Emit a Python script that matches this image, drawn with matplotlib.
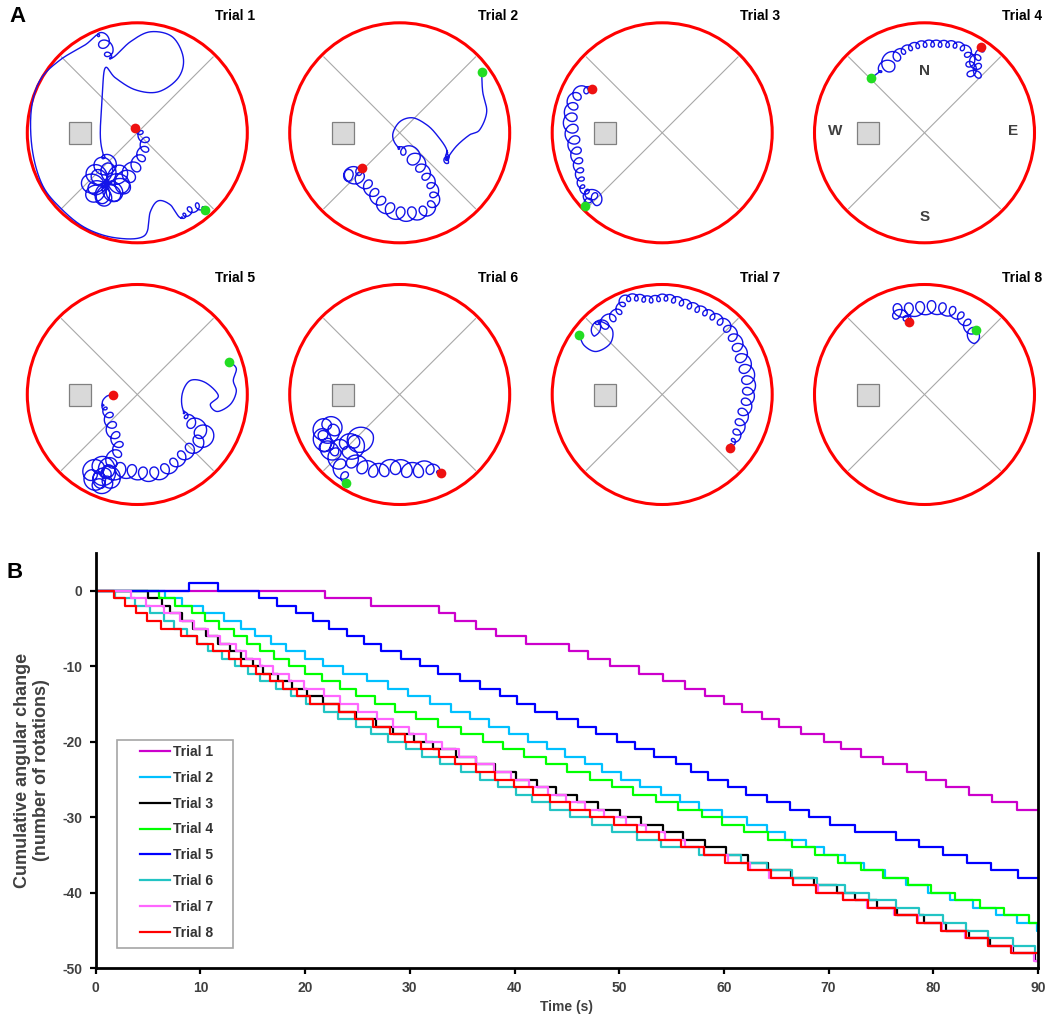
import numpy as np
import matplotlib
matplotlib.use('Agg')
import matplotlib.pyplot as plt
from matplotlib.patches import Circle, Rectangle

plt.rcParams['font.family'] = ['Liberation Sans', 'DejaVu Sans']
plt.rcParams['font.weight'] = 'bold'
plt.rcParams['axes.unicode_minus'] = False

W, H = 1050, 1016

# ---------------- panel B data: times (s) of each full rotation ----------------
trials = ['Trial 1', 'Trial 2', 'Trial 3', 'Trial 4', 'Trial 5', 'Trial 6', 'Trial 7', 'Trial 8']
colors = ['#CC00CC', '#00C0FF', '#000000', '#00FF00', '#0000FF', '#22C4C4', '#FF66FF', '#FF0000']

cw1 = [21.9, 26.3, 32.8, 34.3, 36.3, 38.2, 41.1, 45.2, 47.0, 49.1, 51.9, 54.2, 56.3, 58.2, 60.0,
       61.7, 63.6, 65.3, 67.4, 69.6, 71.2, 73.1, 75.2, 77.5, 79.3, 81.2, 83.4, 85.6, 88.0]
cw2 = [6.6, 8.2, 10.2, 12.2, 13.9, 15.2, 16.7, 18.2, 20.0, 21.7, 23.6, 25.9, 27.9, 29.8, 31.9,
       33.9, 35.7, 37.6, 39.5, 41.3, 43.1, 44.8, 46.7, 48.4, 50.2, 52.0, 54.0, 55.8, 57.6, 59.8,
       62.2, 64.1, 65.8, 67.8, 69.6, 71.6, 73.4, 75.4, 77.4, 79.5, 81.6, 83.8, 86.0, 88.0, 89.9]
cw3 = [5.0, 6.3, 7.1, 8.2, 9.3, 10.5, 11.7, 12.8, 13.9, 15.0, 16.0, 17.4, 18.7, 20.2, 21.7,
       23.2, 24.9, 26.8, 28.4, 30.4, 32.2, 34.4, 36.3, 38.1, 40.1, 42.1, 44.0, 46.0, 48.0, 50.1,
       52.1, 54.2, 56.1, 58.2, 60.2, 62.3, 64.2, 66.4, 68.6, 70.8, 72.5, 74.6, 76.5, 79.1, 81.2,
       83.4, 85.4, 87.6, 89.7]
cw4 = [6.0, 7.6, 9.2, 10.4, 11.8, 13.2, 14.4, 15.7, 17.0, 18.5, 20.0, 21.6, 23.3, 24.9, 26.7,
       28.6, 30.6, 32.7, 34.9, 37.0, 38.9, 40.9, 43.0, 45.0, 47.2, 49.3, 51.3, 53.5, 55.6, 57.9,
       59.8, 61.9, 64.2, 66.5, 68.7, 70.9, 73.1, 75.2, 77.6, 79.8, 82.1, 84.5, 86.8, 89.1]
cw5 = [11.7, 15.6, 17.3, 19.1, 20.7, 22.3, 24.0, 25.6, 27.2, 29.2, 31.0, 32.7, 34.8, 36.7, 38.6,
       40.2, 42.0, 44.1, 46.1, 47.8, 49.8, 51.5, 53.3, 55.4, 56.9, 58.5, 60.4, 62.1, 64.1, 66.3,
       68.1, 70.1, 72.5, 76.4, 78.6, 80.9, 83.2, 85.5, 88.1]
ccw5 = [8.9]
cw6 = [1.8, 3.7, 5.2, 6.5, 7.5, 8.7, 9.7, 10.7, 12.1, 13.3, 14.5, 15.7, 17.2, 18.6, 20.1,
       21.8, 23.1, 24.9, 26.3, 27.9, 29.6, 31.2, 32.9, 34.9, 36.7, 38.4, 40.1, 41.7, 43.4, 45.3,
       47.4, 49.3, 51.7, 54.0, 57.6, 61.6, 64.1, 66.5, 68.9, 71.6, 73.9, 76.4, 78.6, 80.9, 83.1,
       85.2, 87.6, 89.7]
cw7 = [3.4, 4.8, 6.5, 8.0, 9.4, 10.7, 11.9, 13.4, 14.3, 15.7, 16.9, 18.5, 19.9, 21.8, 23.3,
       25.0, 26.9, 28.4, 29.9, 31.5, 33.1, 34.7, 36.3, 38.0, 39.7, 41.4, 43.2, 44.9, 46.7, 48.5,
       50.6, 52.6, 54.4, 56.3, 58.1, 60.4, 62.5, 64.3, 66.6, 69.0, 71.4, 73.7, 76.2, 78.5, 80.8,
       83.0, 85.2, 87.5, 89.6]
cw8 = [1.7, 2.8, 3.8, 4.9, 6.2, 8.1, 9.7, 11.2, 12.7, 13.9, 15.3, 16.6, 17.9, 19.2, 20.5,
       23.2, 24.8, 26.5, 28.1, 29.5, 31.1, 32.8, 34.3, 36.3, 38.1, 39.9, 41.8, 43.4, 45.3, 47.2,
       49.5, 51.7, 53.8, 55.9, 58.1, 60.1, 62.3, 64.5, 66.6, 68.8, 71.4, 73.8, 76.3, 78.4, 80.7,
       83.1, 85.2, 87.4]
cw_all = [cw1, cw2, cw3, cw4, cw5, cw6, cw7, cw8]
ccw_all = [[], [], [], [], ccw5, [], [], []]
t_end = 90

# ---------------- panel A data: tracks, arena radius = 110, (x, y, loop radius) ----------------
track1 = [(68, -77, 0), (60, -74, 4), (51, -79, 4), (43, -85, 0), (33, -72, 0), (21, -68, 0),
          (13, -79, 0), (7, -103, 0), (-22, -105, 0), (-52, -95, 0), (-77, -75, 0), (-95, -52, 0),
          (-105, -17, 0), (-106, 23, 0), (-97, 53, 0), (-77, 73, 0), (-52, 88, 0), (-40, 98, 0),
          (-34, 93, 7), (-30, 83, 6), (-25, 75, 0), (-7, 91, 0), (13, 101, 0), (35, 96, 0),
          (46, 75, 0), (41, 55, 0), (21, 41, 0), (-2, 43, 0), (-22, 55, 0), (-32, 65, 0),
          (-35, 38, 0), (-37, -2, 0), (-34, -22, 0), (-30, -30, 10), (-38, -40, 12), (-44, -52, 12),
          (-38, -63, 10), (-26, -58, 12), (-18, -46, 12), (-28, -40, 10), (-40, -50, 10),
          (-34, -62, 9), (-18, -55, 10), (-8, -40, 8), (0, -30, 6), (5, -20, 5), (8, -10, 5),
          (4, -2, 4), (-2, 5, 0)]
track2 = [(82, 61, 0), (83, 41, 0), (87, 21, 0), (80, 3, 0), (70, -2, 0), (58, -12, 0), (50, -22, 0),
          (46, -29, 3), (47, -17, 0), (37, -2, 0), (27, 8, 0), (13, 15, 0), (0, 11, 0), (-7, -2, 0),
          (-2, -14, 0), (12, -22, 9), (22, -35, 6), (32, -52, 5), (35, -67, 5), (27, -78, 6),
          (13, -81, 7), (0, -81, 7), (-13, -75, 7), (-23, -65, 6), (-32, -53, 6), (-42, -45, 7),
          (-54, -43, 7), (-44, -39, 6), (-38, -35, 0)]
track3 = [(-77, -73, 0), (-72, -63, 7), (-64, -67, 6), (-79, -57, 3), (-82, -45, 4), (-84, -32, 5),
          (-87, -17, 6), (-90, -2, 7), (-92, 13, 7), (-90, 28, 6), (-86, 38, 6), (-78, 43, 5),
          (-70, 44, 0)]
track4 = [(-53, 55, 0), (-45, 61, 0), (-39, 67, 9), (-33, 73, 8), (-25, 80, 4), (-13, 86, 3.5),
          (1, 89, 3.5), (16, 89, 3.5), (31, 88, 3.5), (42, 83, 4), (46, 71, 5), (48, 58, 5),
          (54, 61, 5), (50, 72, 5), (56, 80, 4), (57, 86, 0)]
track5 = [(92, 33, 0), (99, 26, 0), (96, 14, 0), (99, 3, 0), (93, -10, 0), (80, -17, 0), (73, -10, 0),
          (81, -1, 0), (68, 12, 0), (53, 14, 0), (45, 1, 0), (46, -16, 0), (58, -31, 8), (68, -41, 9),
          (58, -51, 7), (46, -61, 6), (35, -71, 6), (23, -78, 7), (10, -80, 7), (-2, -78, 7),
          (-17, -76, 8), (-30, -80, 9), (-42, -88, 8), (-48, -78, 8), (-35, -70, 9), (-25, -85, 8),
          (-40, -92, 7), (-30, -72, 8), (-22, -60, 6), (-19, -51, 5), (-25, -36, 6), (-29, -21, 5),
          (-35, -9, 0), (-31, -2, 0), (-24, 0, 0)]
track6 = [(-54, -88, 0), (-58, -78, 7), (-65, -62, 8), (-75, -50, 9), (-80, -38, 8), (-73, -28, 7),
          (-63, -35, 8), (-76, -45, 8), (-68, -55, 7), (-55, -48, 6), (-38, -44, 12), (-50, -61, 8),
          (-38, -71, 8), (-22, -76, 7), (-5, -72, 8), (13, -76, 8), (30, -73, 7), (41, -78, 0)]
track7 = [(-83, 60, 0), (-78, 49, 0), (-66, 43, 0), (-52, 51, 0), (-50, 65, 0), (-62, 73, 0),
          (-66, 65, 7), (-56, 73, 6), (-44, 83, 4), (-38, 95, 4), (-26, 97, 3.5), (-12, 95, 3.5),
          (3, 97, 3.5), (18, 93, 4), (33, 87, 4), (48, 80, 4), (63, 70, 5), (73, 55, 6), (80, 37, 7),
          (86, 17, 7), (86, -3, 6), (80, -23, 6), (75, -40, 5), (68, -53, 0)]
track8 = [(52, 65, 0), (50, 57, 6), (43, 70, 5), (33, 80, 5), (20, 85, 6), (5, 87, 7), (-10, 85, 7),
          (-30, 83, 7), (-17, 77, 4), (-15, 73, 0)]
tracks = [track1, track2, track3, track4, track5, track6, track7, track8]
ARENA_R = 110
cue_x, cue_size = -57, 22


def track_xy(wp):
    # smooth path through the waypoints, with clockwise loops of the given radius
    wp = np.asarray(wp, float)
    P = np.vstack([wp[0, :2], wp[:, :2], wp[-1, :2]])
    R = np.concatenate([[wp[0, 2]], wp[:, 2], [wp[-1, 2]]])
    t = np.linspace(0, 1, 30, endpoint=False)[:, None]
    segs, rs = [], []
    for i in range(1, len(P) - 2):
        p0, p1, p2, p3 = P[i - 1], P[i], P[i + 1], P[i + 2]
        segs.append(0.5 * (2 * p1 + (p2 - p0) * t + (2 * p0 - 5 * p1 + 4 * p2 - p3) * t ** 2
                           + (3 * p1 - p0 - 3 * p2 + p3) * t ** 3))
        rs.append(R[i] + (R[i + 1] - R[i]) * t[:, 0])
    segs.append(P[-2][None])
    rs.append([R[-2]])
    base = np.vstack(segs)
    rr = np.concatenate(rs)
    s = np.concatenate([[0], np.cumsum(np.hypot(*np.diff(base, axis=0).T))])
    su = np.arange(0, s[-1], 0.1)
    bx = np.interp(su, s, base[:, 0])
    by = np.interp(su, s, base[:, 1])
    ru = np.interp(su, s, rr)
    pitch = ru * np.clip(2.6 - 0.15 * ru, 0.7, 2.0) + 0.5
    phi = np.cumsum(0.1 * 2 * np.pi / pitch)
    return bx + ru * np.cos(phi), by - ru * np.sin(phi)


fig = plt.figure(figsize=(W / 100, H / 100), dpi=100)

col_x = [137.3, 399.7, 662.2, 924.5]
row_y = [132.8, 394.5]
for i, wp in enumerate(tracks):
    cx, cy = col_x[i % 4], row_y[i // 4]
    ax = fig.add_axes([(cx - 132) / W, 1 - (cy + 132) / H, 264 / W, 264 / H])
    ax.set_xlim(-132, 132)
    ax.set_ylim(-132, 132)
    ax.axis('off')
    d = ARENA_R * 0.975 / np.sqrt(2)
    ax.plot([-d, d], [-d, d], color='#A8A8A8', lw=0.8)
    ax.plot([-d, d], [d, -d], color='#A8A8A8', lw=0.8)
    ax.add_patch(Rectangle((cue_x - cue_size / 2, -cue_size / 2), cue_size, cue_size,
                           fc='#D9D9D9', ec='#808080', lw=0.9))
    x, y = track_xy(wp)
    ax.plot(x, y, color='#1414E8', lw=1.0)
    ax.plot(wp[0][0], wp[0][1], 'o', color='#22DD22', ms=7, mec='none')
    ax.plot(wp[-1][0], wp[-1][1], 'o', color='#EE1111', ms=7, mec='none')
    ax.add_patch(Circle((0, 0), ARENA_R, fill=False, ec='#FF0000', lw=2.2))
    fig.text((cx + 118) / W, 1 - (cy - 117) / H, trials[i], ha='right', va='center',
             fontsize=10, fontweight='bold')
    if i == 3:
        for lab, (lx, ly) in zip('NSWE', [(0, 62), (0, -84), (-89, 2), (89, 2)]):
            ax.text(lx, ly, lab, ha='center', va='center', fontsize=11,
                    fontweight='bold', color='#3F3F3F')

fig.text(18 / W, 1 - 17 / H, 'A', ha='center', va='center', fontsize=16, fontweight='bold')
fig.text(15 / W, 1 - 572 / H, 'B', ha='center', va='center', fontsize=16, fontweight='bold')

# ---------------- panel B ----------------
axb = fig.add_axes([95.8 / W, 1 - 968.3 / H, 942.2 / W, (968.3 - 553) / H])
for name, c, cw, ccw in zip(trials, colors, cw_all, ccw_all):
    tt = np.r_[cw, ccw]
    dd = np.r_[-np.ones(len(cw)), np.ones(len(ccw))]
    o = np.argsort(tt)
    lv = np.cumsum(dd[o])
    axb.step(np.r_[0, tt[o], t_end], np.r_[0, lv, lv[-1]], where='post', color=c, lw=1.6, label=name)

axb.set_xlim(0, 90)
axb.set_ylim(-50, 5)
axb.set_xticks(np.arange(0, 91, 10))
axb.set_yticks(np.arange(-50, 1, 10))
axb.spines['top'].set_visible(False)
for sp in ['left', 'bottom', 'right']:
    axb.spines[sp].set_linewidth(2.0)
axb.tick_params(direction='out', length=4.5, width=1.6, labelsize=10, pad=5,
                labelcolor='#404040', right=False)
for lab in axb.get_xticklabels() + axb.get_yticklabels():
    lab.set_fontweight('bold')
axb.set_xlabel('Time (s)', fontsize=10, fontweight='bold', color='#404040', labelpad=3)
fig.text(32 / W, 1 - 770 / H, 'Cumulative angular change\n(number of rotations)', rotation=90,
         ha='center', va='center', multialignment='center', fontsize=13,
         fontweight='bold', color='#404040')

axb.add_patch(Rectangle((0.0222, 0.0489), 0.1238, 0.5008, transform=axb.transAxes,
                        fill=False, ec='#A6A6A6', lw=1.2))
leg = axb.legend(loc='upper left', bbox_to_anchor=(0.0469, 0.5377), frameon=False,
                 borderpad=0, borderaxespad=0, handlelength=2.15, handletextpad=0.25,
                 labelspacing=0.85, prop={'size': 10, 'weight': 'bold'})
for txt in leg.get_texts():
    txt.set_color('#333333')

fig.savefig('out.png', dpi=100)
